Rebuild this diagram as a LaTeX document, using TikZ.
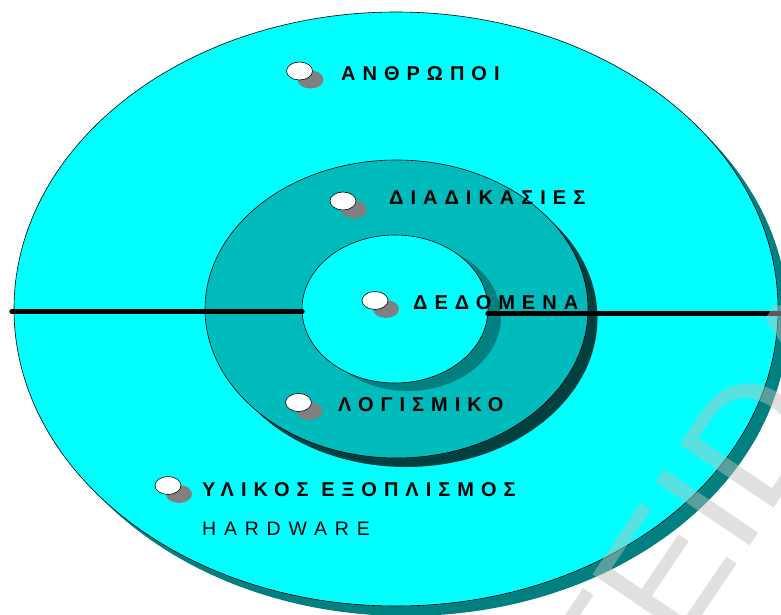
\documentclass[tikz,border=0pt]{standalone}
\usepackage{fontspec}
\setmainfont{Liberation Sans}
\newfontfamily\lblfont[LetterSpace=35]{Liberation Sans}
\newfontfamily\regfont[LetterSpace=40]{Liberation Sans}
\newfontfamily\wmfont{Liberation Sans}
\usetikzlibrary{shapes.geometric}
\definecolor{cyanfill}{RGB}{0,255,255}
\definecolor{midfill}{RGB}{0,187,187}
\definecolor{tealshadow}{RGB}{0,128,128}
\definecolor{darkshadow}{RGB}{0,64,64}
\definecolor{bulletshadow}{RGB}{128,128,128}
\definecolor{wmgray}{RGB}{191,191,191}
\tikzset{
  disc/.style={ellipse, inner sep=0pt, draw=black, line width=0.6pt},
  shadowdisc/.style={ellipse, inner sep=0pt, draw=none},
  divider/.style={line width=5.5pt, draw=black, line cap=round},
  bul/.style={ellipse, inner sep=0pt, minimum width=26pt, minimum height=18pt, fill=white, draw=black, line width=0.6pt},
  bulshadow/.style={ellipse, inner sep=0pt, minimum width=26pt, minimum height=18pt, fill=bulletshadow},
  lbl/.style={anchor=base west, inner sep=0pt, font=\lblfont\bfseries\fontsize{20}{20}\selectfont},
  lblreg/.style={anchor=base west, inner sep=0pt, font=\regfont\fontsize{19.5}{19.5}\selectfont},
}
\begin{document}
\begin{tikzpicture}[x=1pt, y=-1pt]
\useasboundingbox (0,0) rectangle (781,615);
\fill[white] (0,0) rectangle (781,615);
% outer disc
\node[shadowdisc, fill=tealshadow, minimum width=764pt, minimum height=594pt] (outersh) at (406,319) {};
\node[disc, fill=cyanfill, minimum width=764pt, minimum height=594pt] (outer) at (396,309) {};
% middle disc
\node[shadowdisc, fill=darkshadow, minimum width=383pt, minimum height=298pt] (midsh) at (406,318) {};
\node[disc, fill=midfill, minimum width=383pt, minimum height=298pt] (mid) at (396.5,309) {};
% inner disc
\node[shadowdisc, fill=tealshadow, minimum width=186pt, minimum height=148pt] (innersh) at (408,317) {};
\node[disc, fill=cyanfill, minimum width=186pt, minimum height=148pt] (inner) at (395,309) {};
% dividers
\coordinate (la) at (12,311.5);
\coordinate (lb) at (302,311.5);
\coordinate (ra) at (488,313.5);
\coordinate (rb) at (790,313.5);
\draw[divider] (la) -- (lb);
\draw[divider] (ra) -- (rb);
% bullets
\node[bulshadow] (b1s) at (310.5,79.5) {};
\node[bul] (b1) at (299.5,71) {};
\node[bulshadow] (b2s) at (354,209.5) {};
\node[bul] (b2) at (343,201) {};
\node[bulshadow] (b3s) at (386,309) {};
\node[bul] (b3) at (375,300.5) {};
\node[bulshadow] (b4s) at (309.5,411) {};
\node[bul] (b4) at (298.5,402.5) {};
\node[bulshadow] (b5s) at (179,494) {};
\node[bul] (b5) at (168,485.5) {};
% labels
\node[lbl] (t1) at (341,80.5) {ΑΝΘΡΩΠΟΙ};
\node[lbl] (t2) at (389,204) {ΔΙΑΔΙΚΑΣΙΕΣ};
\node[lbl] (t3) at (413,309) {ΔΕΔΟΜΕΝΑ};
\node[lbl] (t4) at (338,411.5) {ΛΟΓΙΣΜΙΚΟ};
\node[lbl] (t5) at (202,496) {ΥΛΙΚΟΣ ΕΞΟΠΛΙΣΜΟΣ};
\node[lblreg] (t6) at (202,535) {HARDWARE};
% watermark
\begin{scope}
\clip (0,0) rectangle (781,615);
\node[rotate=56, anchor=base west, inner sep=0pt, text=wmgray, opacity=0.48, font=\wmfont\fontsize{165}{165}\selectfont] (wm) at (623,733) {TEIDA};
\end{scope}
\end{tikzpicture}
\end{document}
